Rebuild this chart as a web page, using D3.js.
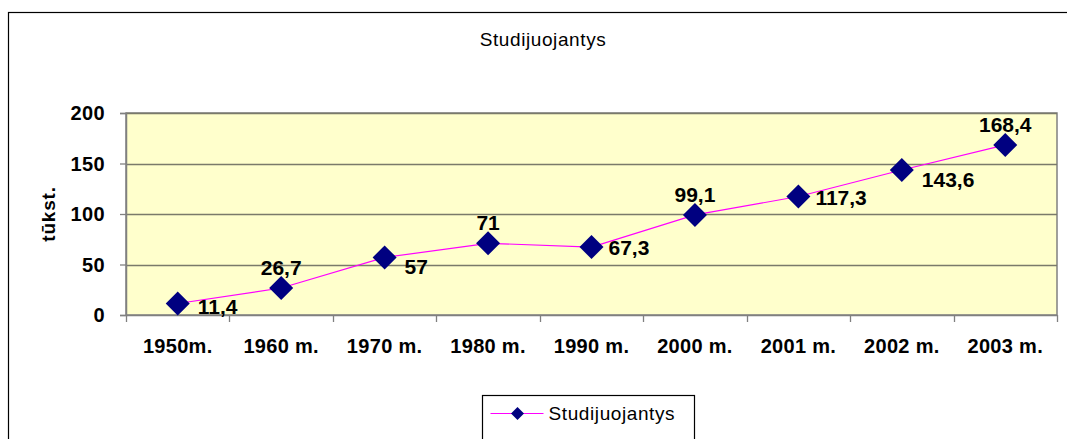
<!DOCTYPE html>
<html>
<head>
<meta charset="utf-8">
<script src="https://cdn.jsdelivr.net/npm/d3@7"></script>
<style>
    body { margin: 0; background: #fff; }
    svg { font-family: "Liberation Sans", Arial, sans-serif; }
    .ytick text { font-size: 20px; font-weight: bold; letter-spacing: 0.4px; }
    .xtick text { font-size: 20px; font-weight: bold; letter-spacing: 0.3px; }
    .vlabel { font-size: 21px; font-weight: bold; letter-spacing: 0px; }
</style>
</head>
<body>
<div id="chart"></div>
<script>
// data
const years = ["1950m.", "1960 m.", "1970 m.", "1980 m.", "1990 m.", "2000 m.", "2001 m.", "2002 m.", "2003 m."]
const students = [11.4, 26.7, 57, 71, 67.3, 99.1, 117.3, 143.6, 168.4]
const valueLabels = ["11,4", "26,7", "57", "71", "67,3", "99,1", "117,3", "143,6", "168,4"]
const yTicks = [0, 50, 100, 150, 200]
const title = "Studijuojantys"
const yTitle = "tūkst."

// where Excel dropped each value label
const labelPlace = ["belowRight", "above", "belowRight", "above", "right", "above", "right", "belowRight", "above"]

const W = 1067, H = 439
const plot = {left: 126, top: 113, right: 1057, bottom: 315}

const svg = d3.select("#chart").append("svg")
    .attr("width", W)
    .attr("height", H)

// outer chart border (right & bottom fall outside the picture)
svg.append("rect")
    .attr("x", 8.5).attr("y", 12.5)
    .attr("width", 1080).attr("height", 450)
    .attr("fill", "#fff")
    .attr("stroke", "#000")
    .attr("stroke-width", 1.2)

svg.append("text")
    .attr("x", 543)
    .attr("y", 46)
    .attr("text-anchor", "middle")
    .style("font-size", "19px")
    .style("letter-spacing", "0.6px")
    .text(title)

const x = d3.scaleBand()
    .domain(years)
    .range([plot.left, plot.right])
    .padding(0)

const y = d3.scaleLinear()
    .domain([0, 200])
    .range([plot.bottom, plot.top])

// plot area
svg.append("rect")
    .attr("x", plot.left)
    .attr("y", plot.top)
    .attr("width", plot.right - plot.left)
    .attr("height", plot.bottom - plot.top)
    .attr("fill", "#FFFFCC")
    .attr("stroke", "#808080")
    .attr("stroke-width", 1.5)

// gridlines
svg.selectAll(".grid")
    .data(yTicks.filter(d => d > 0))
    .join("line")
    .attr("class", "grid")
    .attr("x1", plot.left)
    .attr("x2", plot.right)
    .attr("y1", d => Math.round(y(d)) + 0.5)
    .attr("y2", d => Math.round(y(d)) + 0.5)
    .attr("stroke", "#7a7a6a")
    .attr("stroke-width", 1.3)

// y axis
const yAxis = svg.append("g")
    .attr("class", "ytick")
    .attr("transform", `translate(${plot.left},0)`)
    .call(d3.axisLeft(y).tickValues(yTicks).tickSize(6).tickPadding(15))
yAxis.select(".domain").attr("stroke", "#808080").attr("stroke-width", 1.5)
yAxis.selectAll(".tick line").attr("stroke", "#808080").attr("stroke-width", 1.3)
yAxis.selectAll("text").attr("fill", "#000").attr("dy", "0.34em")

// x axis: ticks sit on category boundaries, labels at centres
const xAxis = svg.append("g")
    .attr("class", "xtick")
    .attr("transform", `translate(0,${plot.bottom})`)
    .call(d3.axisBottom(x).tickSize(0).tickPadding(24))
xAxis.select(".domain").attr("stroke", "#808080").attr("stroke-width", 1.5)
xAxis.selectAll("text").attr("fill", "#000")

const bounds = years.map(d => x(d)).concat([plot.right])
xAxis.selectAll(".bound")
    .data(bounds)
    .join("line")
    .attr("class", "bound")
    .attr("x1", d => Math.round(d) + 0.5)
    .attr("x2", d => Math.round(d) + 0.5)
    .attr("y1", 0)
    .attr("y2", 7)
    .attr("stroke", "#808080")
    .attr("stroke-width", 1.3)

svg.append("text")
    .attr("transform", `translate(55,${(plot.top + plot.bottom) / 2}) rotate(-90)`)
    .attr("text-anchor", "middle")
    .style("font-size", "19px")
    .style("font-weight", "bold")
    .style("letter-spacing", "0.8px")
    .text(yTitle)

const pts = students.map((v, i) => ({cat: years[i], v: v, label: valueLabels[i], place: labelPlace[i]}))
const cx = d => x(d.cat) + x.bandwidth() / 2

const line = d3.line()
    .x(cx)
    .y(d => y(d.v))

svg.append("path")
    .datum(pts)
    .attr("d", line)
    .attr("fill", "none")
    .attr("stroke", "#FF00FF")
    .attr("stroke-width", 1.2)

const diamond = r => `M0,${-r}L${r},0L0,${r}L${-r},0Z`

svg.selectAll(".dots")
    .data(pts)
    .join("path")
    .attr("class", "dots")
    .attr("d", diamond(12))
    .attr("transform", d => `translate(${cx(d)},${y(d.v)})`)
    .attr("fill", "#000080")

const off = {
    above: {dx: 0, dy: -13, anchor: "middle"},
    right: {dx: 17, dy: 8, anchor: "start"},
    belowRight: {dx: 20, dy: 17, anchor: "start"}
}

svg.selectAll(".vlabel")
    .data(pts)
    .join("text")
    .attr("class", "vlabel")
    .attr("x", d => cx(d) + off[d.place].dx)
    .attr("y", d => Math.min(y(d.v) + off[d.place].dy, plot.bottom - 1))
    .attr("text-anchor", d => off[d.place].anchor)
    .text(d => d.label)

// legend
const lg = svg.append("g").attr("transform", "translate(482.5,395.5)")
lg.append("rect")
    .attr("width", 212)
    .attr("height", 60)
    .attr("fill", "#fff")
    .attr("stroke", "#000")
    .attr("stroke-width", 1.2)
lg.append("line")
    .attr("x1", 8).attr("x2", 61)
    .attr("y1", 18).attr("y2", 18)
    .attr("stroke", "#FF00FF")
    .attr("stroke-width", 1.2)
lg.append("path")
    .attr("d", diamond(6.5))
    .attr("transform", "translate(35,18)")
    .attr("fill", "#000080")
lg.append("text")
    .attr("x", 66)
    .attr("y", 24)
    .style("font-size", "19px")
    .style("letter-spacing", "0.6px")
    .text(title)
</script>
</body>
</html>
